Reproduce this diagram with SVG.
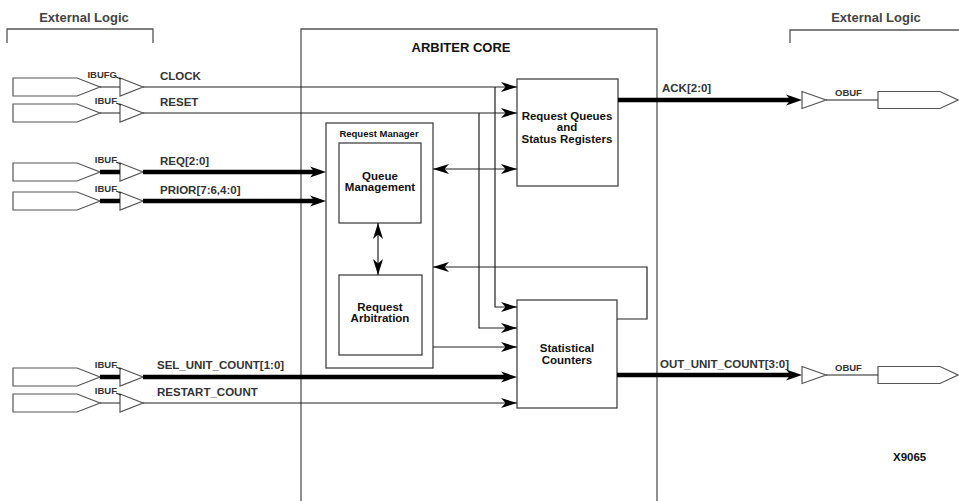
<svg xmlns="http://www.w3.org/2000/svg" width="959" height="501" viewBox="0 0 959 501">
  <style>
    text { font-family: "Liberation Sans", Arial, Helvetica, sans-serif; font-weight: bold; }
    .hdr { font-size: 13px; fill: #444; text-anchor: middle; }
    .sig { font-size: 11.5px; fill: #333; }
    .buf { font-size: 9.5px; fill: #333; }
    .box { fill: #fff; stroke: #444; stroke-width: 1.3; }
    .btxt { font-size: 11.5px; fill: #111; text-anchor: middle; }
    .pad { fill: #fff; stroke: #555; stroke-width: 1.2; }
    .w { fill: none; stroke: #222; stroke-width: 1.2; }
    .bus { fill: none; stroke: #000; stroke-width: 4.5; }
    .frame { fill: none; stroke: #555; stroke-width: 1.3; }
  </style>
  <defs>
    <!-- notched arrowhead, tip at the line end -->
    <marker id="arr" markerUnits="userSpaceOnUse" markerWidth="17" markerHeight="11" refX="16" refY="5" orient="auto-start-reverse" overflow="visible">
      <path d="M0,0 L16,5 L0,10 L4.5,5 Z" fill="#000"/>
    </marker>
    <!-- arrowhead for buses, tip placed 10px past the line end -->
    <marker id="arrB" markerUnits="userSpaceOnUse" markerWidth="17" markerHeight="11" refX="6" refY="5" orient="auto" overflow="visible">
      <path d="M0,-0.5 L16,5 L0,10.5 L4.5,5 Z" fill="#000"/>
    </marker>
    <!-- input pad and input buffer, centred on y=0 -->
    <path id="inpad" class="pad" d="M13,-9 H77 L100,0 L77,9 H13 Z"/>
    <path id="ibuf" class="pad" d="M120,-9 L143,0 L120,9 Z"/>
    <!-- output buffer and output pad, centred on y=0 -->
    <path id="obuf" class="pad" d="M802,-8.5 L826,0 L802,8.5 Z"/>
    <path id="outpad" class="pad" d="M878,-8.5 H940 L958,0 L940,8.5 H878 Z"/>
  </defs>

  <!-- external logic brackets -->
  <g id="ext-left">
    <text class="hdr" x="84" y="22">External Logic</text>
    <path class="frame" d="M7,43 V29 H153 V43"/>
  </g>
  <g id="ext-right">
    <text class="hdr" x="876" y="22">External Logic</text>
    <path class="frame" d="M790,43 V30 H960"/>
  </g>

  <!-- arbiter core outline -->
  <g id="arbiter-core">
    <path class="frame" d="M301,502 V29 H657 V502"/>
    <text x="461" y="52" style="font-size:13px; fill:#111; text-anchor:middle">ARBITER CORE</text>
  </g>

  <!-- input pads with buffers -->
  <g id="in-clock">
    <use href="#inpad" y="87"/><use href="#ibuf" y="87"/>
    <text class="buf" x="117" y="78" text-anchor="end">IBUFG</text>
  </g>
  <g id="in-reset">
    <use href="#inpad" y="113"/><use href="#ibuf" y="113"/>
    <text class="buf" x="117" y="104" text-anchor="end">IBUF</text>
  </g>
  <g id="in-req">
    <use href="#inpad" y="172"/><use href="#ibuf" y="172"/>
    <text class="buf" x="117" y="163" text-anchor="end">IBUF</text>
  </g>
  <g id="in-prior">
    <use href="#inpad" y="201"/><use href="#ibuf" y="201"/>
    <text class="buf" x="117" y="192" text-anchor="end">IBUF</text>
  </g>
  <g id="in-sel">
    <use href="#inpad" y="377"/><use href="#ibuf" y="377"/>
    <text class="buf" x="117" y="368" text-anchor="end">IBUF</text>
  </g>
  <g id="in-restart">
    <use href="#inpad" y="403"/><use href="#ibuf" y="403"/>
    <text class="buf" x="117" y="394" text-anchor="end">IBUF</text>
  </g>

  <!-- output buffers with pads -->
  <g id="out-ack">
    <use href="#obuf" y="100"/><use href="#outpad" y="100"/>
    <text class="buf" x="835" y="96">OBUF</text>
  </g>
  <g id="out-count">
    <use href="#obuf" y="375"/><use href="#outpad" y="375"/>
    <text class="buf" x="835" y="371">OBUF</text>
  </g>

  <!-- functional blocks -->
  <g id="request-queues">
    <rect class="box" x="517" y="79" width="101" height="107"/>
    <text class="btxt" x="567" y="120">Request Queues</text>
    <text class="btxt" x="567" y="131">and</text>
    <text class="btxt" x="567" y="143">Status Registers</text>
  </g>
  <g id="request-manager">
    <rect class="box" x="326" y="123" width="107" height="245"/>
    <text x="379" y="137" style="font-size:9.5px; fill:#111; text-anchor:middle">Request Manager</text>
  </g>
  <g id="queue-management">
    <rect class="box" x="339" y="143" width="82" height="80"/>
    <text class="btxt" x="380" y="180">Queue</text>
    <text class="btxt" x="380" y="191">Management</text>
  </g>
  <g id="request-arbitration">
    <rect class="box" x="339" y="275" width="83" height="80"/>
    <text class="btxt" x="380" y="311">Request</text>
    <text class="btxt" x="380" y="322">Arbitration</text>
  </g>
  <g id="statistical-counters">
    <rect class="box" x="517" y="300" width="100" height="108"/>
    <text class="btxt" x="567" y="352">Statistical</text>
    <text class="btxt" x="567" y="364">Counters</text>
  </g>

  <!-- connectors -->
  <g id="connectors">
    <!-- pad to buffer stubs -->
    <path class="w" d="M100,87 H120 M100,113 H120 M100,403 H120"/>
    <path class="bus" d="M100,172 H120 M100,201 H120 M100,377 H120"/>
    <path class="w" d="M116,77 L121,79 M116,103 L121,105 M116,162 L121,164 M116,191 L121,193 M116,367 L121,369 M116,393 L121,395"/>

    <!-- clock and reset -->
    <path class="w" d="M143,87 H517" marker-end="url(#arr)"/>
    <path class="w" d="M143,113 H517" marker-end="url(#arr)"/>
    <path class="w" d="M495,87 V307 H517" marker-end="url(#arr)"/>
    <path class="w" d="M479,113 V328 H517" marker-end="url(#arr)"/>

    <!-- request and priority buses -->
    <path class="bus" d="M143,172 H316" marker-end="url(#arrB)"/>
    <path class="bus" d="M143,201 H316" marker-end="url(#arrB)"/>

    <!-- count control -->
    <path class="bus" d="M143,377 H507" marker-end="url(#arrB)"/>
    <path class="w" d="M143,403 H517" marker-end="url(#arr)"/>

    <!-- internal links -->
    <path class="w" d="M433,169 H517" marker-start="url(#arr)" marker-end="url(#arr)"/>
    <path class="w" d="M378,223 V275" marker-start="url(#arr)" marker-end="url(#arr)"/>
    <path class="w" d="M433,347 H517" marker-end="url(#arr)"/>
    <path class="w" d="M617,319 H647 V267 H433" marker-end="url(#arr)"/>

    <!-- outputs -->
    <path class="bus" d="M618,100 H792" marker-end="url(#arrB)"/>
    <path class="bus" d="M617,375 H792" marker-end="url(#arrB)"/>
    <path class="w" d="M826,100 H878 M826,375 H878"/>
  </g>

  <!-- signal names -->
  <g id="labels">
    <text class="sig" x="160" y="80">CLOCK</text>
    <text class="sig" x="160" y="106">RESET</text>
    <text class="sig" x="160" y="165">REQ[2:0]</text>
    <text class="sig" x="160" y="194">PRIOR[7:6,4:0]</text>
    <text class="sig" x="157" y="369">SEL_UNIT_COUNT[1:0]</text>
    <text class="sig" x="157" y="396">RESTART_COUNT</text>
    <text class="sig" x="662" y="92">ACK[2:0]</text>
    <text class="sig" x="660" y="368">OUT_UNIT_COUNT[3:0]</text>
    <text x="893" y="461" style="font-size:11.5px; fill:#111">X9065</text>
  </g>
</svg>
